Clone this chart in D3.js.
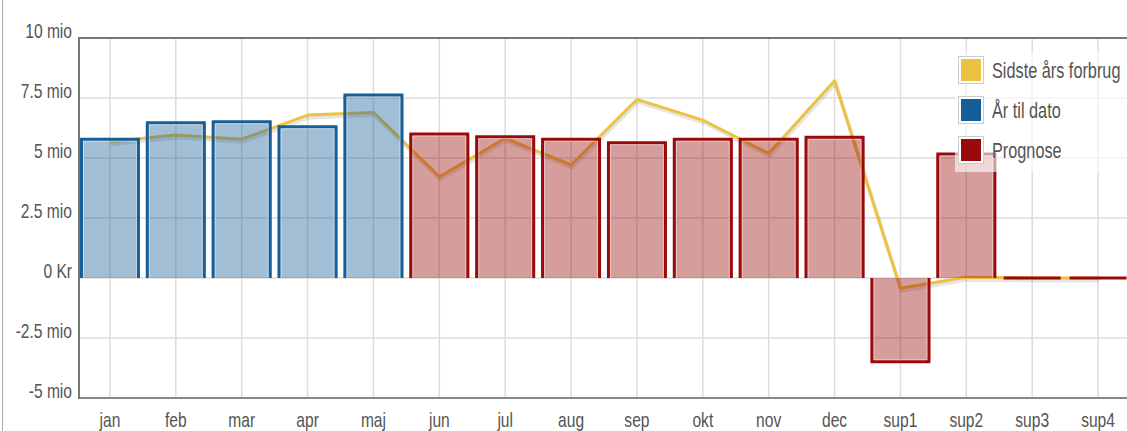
<!DOCTYPE html>
<html>
<head>
<meta charset="utf-8">
<script src="https://cdn.jsdelivr.net/npm/d3@7"></script>
<style>
  html, body { margin: 0; padding: 0; background: #fff; overflow: hidden; }
  text { font-family: "Liberation Sans", Arial, sans-serif; fill: #545454; }
</style>
</head>
<body>
<script>
// months + supplementary periods
const categories = ["jan","feb","mar","apr","maj","jun","jul","aug","sep","okt","nov","dec","sup1","sup2","sup3","sup4"];
// values in mio Kr
const lastYear = [5.68,5.96,5.78,6.79,6.90,4.22,5.82,4.71,7.44,6.58,5.19,8.22,-0.43,0.03,0,0];
const ytdCats = ["jan","feb","mar","apr","maj"];
const ytd = [5.78,6.47,6.51,6.30,7.62];
const forecastCats = ["jun","jul","aug","sep","okt","nov","dec","sup1","sup2","sup3","sup4"];
const forecast = [6.00,5.89,5.78,5.64,5.78,5.78,5.86,-3.49,5.17,0,0];
const yTicks = [-5,-2.5,0,2.5,5,7.5,10];
const legendLabels = ["Sidste års forbrug","År til dato","Prognose"];

const W = 1127, H = 431;
const yellow = "#edc240", blue = "#175d96", red = "#990a0a";

const svg = d3.select("body").append("svg")
    .attr("width", W)
    .attr("height", H);

const x = d3.scaleBand()
    .domain(categories)
    .range([77, 1131])
    .paddingInner(0.09)
    .paddingOuter(0.045);
const cx = c => x(c) + x.bandwidth() / 2;

const y = d3.scaleLinear().domain([-5, 10]).range([398, 38]);

// container border
svg.append("line")
    .attr("x1", 2.5).attr("x2", 2.5).attr("y1", 0).attr("y2", H)
    .attr("stroke", "#aaa").attr("stroke-width", 1);

// grid
const grid = svg.append("g").attr("stroke", "#dcdcdc").attr("stroke-width", 1.5);
grid.selectAll("line.v")
  .data(categories)
  .join("line")
    .attr("class", "v")
    .attr("x1", cx).attr("x2", cx)
    .attr("y1", y(10)).attr("y2", y(-5));
grid.selectAll("line.h")
  .data(yTicks.filter(d => d > -5 && d < 10))
  .join("line")
    .attr("class", "h")
    .attr("x1", 79).attr("x2", W)
    .attr("y1", d => y(d)).attr("y2", d => y(d));

// frame
svg.append("line").attr("x1", 79).attr("x2", W).attr("y1", y(10)).attr("y2", y(10))
    .attr("stroke", "#777").attr("stroke-width", 2);
svg.append("line").attr("x1", 79).attr("x2", W).attr("y1", y(-5)).attr("y2", y(-5))
    .attr("stroke", "#888").attr("stroke-width", 2);
svg.append("line").attr("x1", 79).attr("x2", 79).attr("y1", y(10) - 1).attr("y2", y(-5) + 1)
    .attr("stroke", "#777").attr("stroke-width", 2);

// last year line (drawn below the translucent bars)
const line = d3.line()
    .x((d, i) => cx(categories[i]))
    .y(d => y(d));
svg.append("path")
    .attr("d", line(lastYear))
    .attr("fill", "none")
    .attr("stroke", "rgba(0,0,0,0.1)")
    .attr("stroke-width", 4)
    .attr("transform", "translate(1,2.5)");
svg.append("path")
    .attr("d", line(lastYear))
    .attr("fill", "none")
    .attr("stroke", yellow)
    .attr("stroke-width", 3)
    .attr("stroke-linejoin", "round");

// bars: open outline (no edge on the zero line)
function bars(cats, vals, color) {
  const g = svg.append("g");
  const data = cats.map((c, i) => ({c, v: vals[i]}));
  g.selectAll("rect")
    .data(data)
    .join("rect")
      .attr("x", d => x(d.c))
      .attr("width", x.bandwidth())
      .attr("y", d => Math.min(y(d.v), y(0)))
      .attr("height", d => Math.abs(y(d.v) - y(0)))
      .attr("fill", color)
      .attr("fill-opacity", 0.4);
  const outline = d => {
    const x0 = x(d.c) + 1.5, x1 = x(d.c) + x.bandwidth() - 1.5, y0 = y(0), y1 = y(d.v);
    return `M${x0},${y0}V${y1}H${x1}V${y0}`;
  };
  g.selectAll("path.o")
    .data(data)
    .join("path")
      .attr("class", "o")
      .attr("d", outline)
      .attr("fill", "none")
      .attr("stroke", color)
      .attr("stroke-width", 3);
  // faint inner highlight
  g.selectAll("path.i")
    .data(data.filter(d => Math.abs(y(d.v) - y(0)) > 6))
    .join("path")
      .attr("class", "i")
      .attr("d", d => {
        const s = d.v >= 0 ? 1 : -1;
        const x0 = x(d.c) + 3.5, x1 = x(d.c) + x.bandwidth() - 3.5, y0 = y(0), y1 = y(d.v) + 2 * s;
        return `M${x0},${y0}V${y1}H${x1}V${y0}`;
      })
      .attr("fill", "none")
      .attr("stroke", "rgba(255,255,255,0.45)")
      .attr("stroke-width", 1);
}
bars(ytdCats, ytd, blue);
bars(forecastCats, forecast, red);

// axis labels
const sx = 0.78;
svg.append("g")
  .selectAll("text")
  .data(yTicks)
  .join("text")
    .attr("transform", d => `translate(72,${y(d)}) scale(${sx},1)`)
    .attr("text-anchor", "end")
    .style("font-size", "20px")
    .text(d => d === 0 ? "0 Kr" : `${d} mio`);

svg.append("g")
  .selectAll("text")
  .data(categories)
  .join("text")
    .attr("transform", d => `translate(${cx(d)},427) scale(${sx},1)`)
    .attr("text-anchor", "middle")
    .style("font-size", "20px")
    .text(d => d);

// legend
const legend = svg.append("g");
legend.append("rect")
    .attr("x", 955).attr("y", 52).attr("width", 175).attr("height", 120)
    .attr("fill", "#fff").attr("fill-opacity", 0.6);
const item = legend.selectAll("g")
  .data(legendLabels)
  .join("g")
    .attr("transform", (d, i) => `translate(958,${56 + i * 40})`);
item.append("rect")
    .attr("x", 0.5).attr("y", 0.5).attr("width", 25).attr("height", 27)
    .attr("fill", "#fff").attr("stroke", "#ccc");
item.append("rect")
    .attr("x", 3).attr("y", 3).attr("width", 20).attr("height", 22)
    .attr("fill", (d, i) => [yellow, blue, red][i]);
item.append("text")
    .attr("transform", `translate(34,22) scale(0.74,1)`)
    .style("font-size", "22px")
    .text(d => d);
</script>
</body>
</html>
